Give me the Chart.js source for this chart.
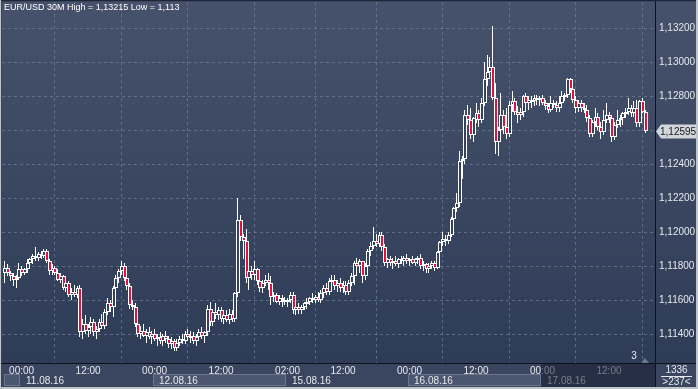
<!DOCTYPE html>
<html>
<head>
<meta charset="utf-8">
<script src="https://cdn.jsdelivr.net/npm/chart.js@4.4.1/dist/chart.umd.min.js"></script>
<style>
  html, body { margin: 0; padding: 0; background: #36425c; }
  canvas { display: block; }
</style>
</head>
<body>
<canvas id="chart" width="698" height="389"></canvas>
<script>
const symbolTitle = "EUR/USD 30M High = 1,13215 Low = 1,113";
const lastPrice = 1.12595;
const barsTotal = "1336";
const barsVisible = ">237<";
const pageNumber = "3";

// 30 minute candles, 10.08 21:00 -> 17.08 ~18:30
const opens = [
  1.1176, 1.1179, 1.1176, 1.1174, 1.1172, 1.1173, 1.1178, 1.1176, 1.1178, 1.1182,
  1.1184, 1.1186, 1.1185, 1.1187, 1.1186, 1.1189, 1.1183, 1.1177, 1.1179, 1.1176,
  1.1172, 1.1174, 1.1167, 1.1170, 1.1163, 1.1165, 1.1163, 1.1167, 1.1141, 1.1146,
  1.1142, 1.1144, 1.1147, 1.1141, 1.1143, 1.1147, 1.1145, 1.1153, 1.1158, 1.1156,
  1.1167, 1.1173, 1.1177, 1.1180, 1.1173, 1.1168, 1.1157, 1.1156, 1.1146, 1.1140,
  1.1142, 1.1139, 1.1141, 1.1138, 1.1140, 1.1137, 1.1138, 1.1136, 1.1139, 1.1137,
  1.1134, 1.1136, 1.1132, 1.1135, 1.1137, 1.1136, 1.1140, 1.1138, 1.1139, 1.1136,
  1.1138, 1.1141, 1.1139, 1.1141, 1.1155, 1.1147, 1.1153, 1.1151, 1.1154, 1.1149,
  1.1151, 1.1148, 1.1152, 1.1149, 1.1164, 1.1207, 1.1197, 1.1195, 1.1173, 1.1177,
  1.1175, 1.1178, 1.1171, 1.1167, 1.1170, 1.1172, 1.1170, 1.1162, 1.1163, 1.1159,
  1.1161, 1.1160, 1.1159, 1.1160, 1.1163, 1.1154, 1.1156, 1.1154, 1.1156, 1.1158,
  1.1159, 1.1161, 1.1160, 1.1162, 1.1160, 1.1164, 1.1167, 1.1165, 1.1171, 1.1172,
  1.1168, 1.1170, 1.1167, 1.1169, 1.1165, 1.1170, 1.1174, 1.1182, 1.1180, 1.1183,
  1.1174, 1.1180, 1.1189, 1.1192, 1.1195, 1.1193, 1.1198, 1.1191, 1.1182, 1.1184,
  1.1182, 1.1183, 1.1181, 1.1184, 1.1183, 1.1185, 1.1183, 1.1184, 1.1182, 1.1184,
  1.1185, 1.1180, 1.1181, 1.1178, 1.1180, 1.1182, 1.1179, 1.1188, 1.1194, 1.1196,
  1.1195, 1.1198, 1.1208, 1.1214, 1.1217, 1.1242, 1.1243, 1.1269, 1.1266, 1.1257,
  1.1266, 1.1270, 1.1266, 1.1276, 1.1290, 1.1294, 1.1297, 1.1279, 1.1253, 1.1260,
  1.1269, 1.1262, 1.1258, 1.1275, 1.1277, 1.1271, 1.1269, 1.1271, 1.1280, 1.1276,
  1.1278, 1.1277, 1.1279, 1.1278, 1.1279, 1.1276, 1.1274, 1.1272, 1.1276, 1.1275,
  1.1273, 1.1276, 1.1280, 1.1281, 1.1290, 1.1284, 1.1278, 1.1273, 1.1276, 1.1273,
  1.1272, 1.1267, 1.1258, 1.1265, 1.1268, 1.1262, 1.1259, 1.1266, 1.1269, 1.1267,
  1.1256, 1.1263, 1.1266, 1.1267, 1.1270, 1.1271, 1.1273, 1.1270, 1.1273, 1.1264,
  1.1277, 1.1271
];
const highs = [
  1.1183, 1.1181, 1.1177, 1.1176, 1.1175, 1.1182, 1.1180, 1.1179, 1.1184, 1.1185,
  1.1187, 1.1191, 1.1188, 1.1189, 1.1190, 1.1190, 1.1184, 1.1181, 1.1180, 1.1178,
  1.1176, 1.1175, 1.1172, 1.1171, 1.1167, 1.1169, 1.1168, 1.1169, 1.1149, 1.1151,
  1.1146, 1.1150, 1.1149, 1.1145, 1.1149, 1.1152, 1.1155, 1.1161, 1.1160, 1.1168,
  1.1175, 1.1178, 1.1183, 1.1182, 1.1175, 1.1170, 1.1160, 1.1158, 1.1148, 1.1145,
  1.1146, 1.1143, 1.1144, 1.1142, 1.1143, 1.1140, 1.1141, 1.1140, 1.1142, 1.1139,
  1.1138, 1.1137, 1.1137, 1.1139, 1.1140, 1.1142, 1.1143, 1.1142, 1.1141, 1.1140,
  1.1143, 1.1144, 1.1142, 1.1157, 1.1159, 1.1155, 1.1158, 1.1156, 1.1156, 1.1153,
  1.1154, 1.1155, 1.1154, 1.1165, 1.1220, 1.1210, 1.1199, 1.1202, 1.1178, 1.1180,
  1.1183, 1.1179, 1.1173, 1.1172, 1.1175, 1.1176, 1.1174, 1.1165, 1.1164, 1.1163,
  1.1163, 1.1162, 1.1161, 1.1165, 1.1165, 1.1157, 1.1158, 1.1157, 1.1159, 1.1161,
  1.1162, 1.1164, 1.1163, 1.1165, 1.1166, 1.1169, 1.1170, 1.1173, 1.1175, 1.1175,
  1.1172, 1.1173, 1.1171, 1.1171, 1.1172, 1.1176, 1.1183, 1.1185, 1.1184, 1.1183,
  1.1182, 1.1190, 1.1194, 1.1203, 1.1199, 1.1200, 1.1200, 1.1193, 1.1185, 1.1186,
  1.1185, 1.1186, 1.1185, 1.1186, 1.1186, 1.1187, 1.1185, 1.1186, 1.1185, 1.1186,
  1.1187, 1.1183, 1.1182, 1.1182, 1.1183, 1.1183, 1.1189, 1.1195, 1.1200, 1.1198,
  1.1200, 1.1209, 1.1215, 1.1223, 1.1248, 1.1245, 1.1272, 1.1275, 1.1273, 1.1268,
  1.1276, 1.1272, 1.1279, 1.1300, 1.1304, 1.1303, 1.13215, 1.1288, 1.1262, 1.1282,
  1.1272, 1.1273, 1.1277, 1.1283, 1.1279, 1.1274, 1.1273, 1.1281, 1.1282, 1.1280,
  1.1280, 1.1281, 1.1281, 1.1280, 1.1281, 1.1278, 1.1276, 1.1280, 1.1278, 1.1277,
  1.1280, 1.1283, 1.1282, 1.1291, 1.1291, 1.1286, 1.1280, 1.1278, 1.1278, 1.1276,
  1.1275, 1.1269, 1.1266, 1.1273, 1.1270, 1.1265, 1.1272, 1.1276, 1.1271, 1.1269,
  1.1265, 1.1272, 1.1269, 1.1271, 1.1273, 1.1279, 1.1275, 1.1277, 1.1278, 1.1278,
  1.1279, 1.1272
];
const lows = [
  1.1170, 1.1174, 1.1171, 1.1168, 1.1167, 1.1172, 1.1174, 1.1175, 1.1176, 1.1179,
  1.1181, 1.1183, 1.1183, 1.1184, 1.1185, 1.1182, 1.1175, 1.1175, 1.1175, 1.1171,
  1.1170, 1.1166, 1.1165, 1.1162, 1.1160, 1.1162, 1.1161, 1.1138, 1.1137, 1.1140,
  1.1138, 1.1140, 1.1139, 1.1137, 1.1141, 1.1144, 1.1143, 1.1151, 1.1153, 1.1150,
  1.1164, 1.1170, 1.1175, 1.1171, 1.1166, 1.1155, 1.1154, 1.1144, 1.1138, 1.1137,
  1.1138, 1.1135, 1.1137, 1.1134, 1.1136, 1.1133, 1.1134, 1.1133, 1.1135, 1.1132,
  1.1131, 1.1130, 1.1130, 1.1133, 1.1134, 1.1134, 1.1136, 1.1135, 1.1134, 1.1133,
  1.1136, 1.1137, 1.1135, 1.1139, 1.1145, 1.1145, 1.1149, 1.1148, 1.1147, 1.1146,
  1.1147, 1.1146, 1.1147, 1.1147, 1.1162, 1.1195, 1.1184, 1.1170, 1.1166, 1.1172,
  1.1172, 1.1169, 1.1165, 1.1164, 1.1168, 1.1166, 1.1157, 1.1159, 1.1158, 1.1157,
  1.1156, 1.1157, 1.1156, 1.1158, 1.1152, 1.1151, 1.1152, 1.1152, 1.1154, 1.1155,
  1.1157, 1.1158, 1.1158, 1.1159, 1.1158, 1.1161, 1.1163, 1.1163, 1.1167, 1.1166,
  1.1165, 1.1165, 1.1164, 1.1163, 1.1163, 1.1168, 1.1169, 1.1178, 1.1176, 1.1170,
  1.1172, 1.1178, 1.1186, 1.1190, 1.1191, 1.1191, 1.1189, 1.1180, 1.1179, 1.1180,
  1.1178, 1.1180, 1.1179, 1.1181, 1.1180, 1.1181, 1.1180, 1.1181, 1.1180, 1.1181,
  1.1178, 1.1177, 1.1176, 1.1176, 1.1178, 1.1177, 1.1178, 1.1186, 1.1192, 1.1192,
  1.1193, 1.1197, 1.1206, 1.1212, 1.1215, 1.1231, 1.1240, 1.1263, 1.1255, 1.1253,
  1.1264, 1.1262, 1.1264, 1.1274, 1.1286, 1.1290, 1.1278, 1.1246, 1.1245, 1.1258,
  1.1258, 1.1255, 1.1256, 1.1271, 1.1269, 1.1264, 1.1266, 1.1268, 1.1274, 1.1272,
  1.1273, 1.1274, 1.1275, 1.1274, 1.1275, 1.1272, 1.1270, 1.1271, 1.1273, 1.1271,
  1.1271, 1.1274, 1.1277, 1.1279, 1.1282, 1.1276, 1.1270, 1.1271, 1.1271, 1.1270,
  1.1265, 1.1256, 1.1256, 1.1262, 1.1260, 1.1255, 1.1257, 1.1264, 1.1264, 1.1253,
  1.1254, 1.1261, 1.1262, 1.1263, 1.1267, 1.1269, 1.1268, 1.1268, 1.1262, 1.1262,
  1.1270, 1.12585
];
const closes = [
  1.1179, 1.1176, 1.1174, 1.1172, 1.1173, 1.1178, 1.1176, 1.1178, 1.1182, 1.1184,
  1.1186, 1.1185, 1.1187, 1.1186, 1.1189, 1.1183, 1.1177, 1.1179, 1.1176, 1.1172,
  1.1174, 1.1167, 1.1170, 1.1163, 1.1165, 1.1163, 1.1167, 1.1141, 1.1146, 1.1142,
  1.1144, 1.1147, 1.1141, 1.1143, 1.1147, 1.1145, 1.1153, 1.1158, 1.1156, 1.1167,
  1.1173, 1.1177, 1.1180, 1.1173, 1.1168, 1.1157, 1.1156, 1.1146, 1.1140, 1.1142,
  1.1139, 1.1141, 1.1138, 1.1140, 1.1137, 1.1138, 1.1136, 1.1139, 1.1137, 1.1134,
  1.1136, 1.1132, 1.1135, 1.1137, 1.1136, 1.1140, 1.1138, 1.1139, 1.1136, 1.1138,
  1.1141, 1.1139, 1.1141, 1.1155, 1.1147, 1.1153, 1.1151, 1.1154, 1.1149, 1.1151,
  1.1148, 1.1152, 1.1149, 1.1164, 1.1207, 1.1197, 1.1195, 1.1173, 1.1177, 1.1175,
  1.1178, 1.1171, 1.1167, 1.1170, 1.1172, 1.1170, 1.1162, 1.1163, 1.1159, 1.1161,
  1.1160, 1.1159, 1.1160, 1.1163, 1.1154, 1.1156, 1.1154, 1.1156, 1.1158, 1.1159,
  1.1161, 1.1160, 1.1162, 1.1160, 1.1164, 1.1167, 1.1165, 1.1171, 1.1172, 1.1168,
  1.1170, 1.1167, 1.1169, 1.1165, 1.1170, 1.1174, 1.1182, 1.1180, 1.1183, 1.1174,
  1.1180, 1.1189, 1.1192, 1.1195, 1.1193, 1.1198, 1.1191, 1.1182, 1.1184, 1.1182,
  1.1183, 1.1181, 1.1184, 1.1183, 1.1185, 1.1183, 1.1184, 1.1182, 1.1184, 1.1185,
  1.1180, 1.1181, 1.1178, 1.1180, 1.1182, 1.1179, 1.1188, 1.1194, 1.1196, 1.1195,
  1.1198, 1.1208, 1.1214, 1.1217, 1.1242, 1.1243, 1.1269, 1.1266, 1.1257, 1.1267,
  1.1270, 1.1266, 1.1276, 1.1290, 1.1294, 1.1297, 1.1279, 1.1253, 1.1260, 1.1269,
  1.1262, 1.1258, 1.1275, 1.1277, 1.1271, 1.1269, 1.1271, 1.1280, 1.1276, 1.1278,
  1.1277, 1.1279, 1.1278, 1.1279, 1.1276, 1.1274, 1.1272, 1.1276, 1.1275, 1.1273,
  1.1276, 1.1280, 1.1281, 1.1290, 1.1284, 1.1278, 1.1273, 1.1276, 1.1273, 1.1272,
  1.1267, 1.1258, 1.1265, 1.1268, 1.1262, 1.1259, 1.1266, 1.1269, 1.1267, 1.1256,
  1.1263, 1.1266, 1.1267, 1.1270, 1.1271, 1.1273, 1.1270, 1.1273, 1.1264, 1.1277,
  1.1271, 1.12595
];

// time axis: candle index of each label
const timeTickIdx = [6, 30, 54, 78, 102, 122, 146, 170, 194, 218];
const timeTickLabels = ["00:00", "12:00", "00:00", "12:00", "02:00", "12:00", "00:00", "12:00", "00:00", "12:00"];
const dayStartIdx = [0, 6, 54, 102, 146, 194];
const dayLabels = ["10.08.16", "11.08.16", "12.08.16", "15.08.16", "16.08.16", "17.08.16"];
const priceTicks = [1.114, 1.116, 1.118, 1.12, 1.122, 1.124, 1.126, 1.128, 1.13, 1.132];

const FONT = "'Liberation Sans', Arial, sans-serif";
const TEXT = "#e6e9ee";
const GRID = "rgba(125,140,168,0.55)";
const RED = "#e0113c";
const HOLLOW = "#35425c";

const idx = opens.map((_, i) => i);
const wicks = idx.map(i => ({ x: i, y: [lows[i], highs[i]] }));
const bodies = idx.map(i => ({ x: i, y: [Math.min(opens[i], closes[i]), Math.max(opens[i], closes[i])] }));
const bodyFill = idx.map(i => closes[i] < opens[i] ? RED : HOLLOW);

// snap bars to whole pixels so the thin candles stay sharp
const crispBars = {
  id: 'crispBars',
  afterDatasetsUpdate(chart) {
    chart.getSortedVisibleDatasetMetas().forEach(meta => {
      meta.data.forEach(el => {
        const n = Math.floor(el.x);
        el.x = el.width % 2 === 0 ? n + 1 : n + 0.5;
        const top = Math.round(Math.min(el.y, el.base));
        let bottom = Math.round(Math.max(el.y, el.base));
        if (bottom - top < 2) bottom = top + 2;
        el.y = top;
        el.base = bottom;
      });
    });
  }
};

const frame = {
  id: 'frame',
  beforeDraw(chart) {
    const { ctx, chartArea: a, width, height } = chart;
    ctx.save();
    ctx.fillStyle = "#3a4660";
    ctx.fillRect(0, 0, width, height);
    const g = ctx.createLinearGradient(0, a.top, 0, a.bottom);
    g.addColorStop(0, "#46526b");
    g.addColorStop(1, "#2f3c57");
    ctx.fillStyle = g;
    ctx.fillRect(a.left, a.top, width - a.left - 2, a.bottom - a.top);
    ctx.restore();
  },
  afterDraw(chart) {
    const { ctx, chartArea: a, width, height } = chart;
    const xs = chart.scales.x, ys = chart.scales.y;
    ctx.save();

    // date row
    const rowTop = a.bottom + 11, rowBot = height - 3;
    dayStartIdx.forEach((d, k) => {
      const x0 = Math.round(xs.getPixelForValue(d - 0.5));
      const x1 = k + 1 < dayStartIdx.length ? Math.round(xs.getPixelForValue(dayStartIdx[k + 1] - 0.5)) : a.right;
      if (k % 2 === 0) {
        const l = Math.max(x0, a.left);
        ctx.fillStyle = "#4b5770";
        ctx.fillRect(l, rowTop, x1 - l, rowBot - rowTop);
        ctx.strokeStyle = "#6a7690";
        ctx.lineWidth = 1;
        ctx.strokeRect(l + 0.5, rowTop + 0.5, x1 - l - 1, rowBot - rowTop - 1);
      }
      if (x1 - x0 > 60) {
        ctx.fillStyle = TEXT;
        ctx.font = "10px " + FONT;
        ctx.textBaseline = "middle";
        ctx.textAlign = "left";
        ctx.fillText(dayLabels[k], x0 + 6, (rowTop + rowBot) / 2 + 1);
      }
    });

    // current day shading on the time axis
    const cur = Math.round(xs.getPixelForValue(dayStartIdx[dayStartIdx.length - 1] - 0.5));
    ctx.fillStyle = "rgba(22,30,48,0.55)";
    ctx.fillRect(cur, a.bottom + 1, a.right - cur, height - a.bottom - 3);

    // separators
    ctx.fillStyle = "#0d1119";
    ctx.fillRect(a.right, 0, 1, height);
    ctx.fillRect(0, a.bottom, width, 1);

    // last price tag
    const py = Math.round(ys.getPixelForValue(lastPrice)) + 0.5;
    ctx.beginPath();
    ctx.moveTo(a.right + 1, py);
    ctx.lineTo(a.right + 6, py - 7);
    ctx.lineTo(width - 2, py - 7);
    ctx.lineTo(width - 2, py + 7);
    ctx.lineTo(a.right + 6, py + 7);
    ctx.closePath();
    ctx.fillStyle = "#d2d5da";
    ctx.fill();
    ctx.fillStyle = "#15181e";
    ctx.font = "10px " + FONT;
    ctx.textAlign = "left";
    ctx.textBaseline = "middle";
    ctx.fillText(lastPrice.toFixed(5).replace(".", ","), a.right + 5, py + 0.5);

    // bar counters
    const cx = (a.right + width) / 2;
    ctx.fillStyle = TEXT;
    ctx.textAlign = "center";
    ctx.fillText(barsTotal, cx, a.bottom + 7);
    ctx.fillRect(a.right + 6, a.bottom + 13, width - a.right - 12, 1);
    ctx.fillText(barsVisible, cx, a.bottom + 19);

    ctx.fillText(pageNumber, a.right - 21, a.bottom - 7);
    ctx.fillStyle = "#6c778c";
    ctx.beginPath();
    ctx.moveTo(a.right - 14, a.bottom);
    ctx.lineTo(a.right - 10, a.bottom - 5);
    ctx.lineTo(a.right - 6, a.bottom);
    ctx.closePath();
    ctx.fill();

    // title
    ctx.fillStyle = "#ffffff";
    ctx.textAlign = "left";
    ctx.font = "9px " + FONT;
    ctx.fillText(symbolTitle, 4, 8);

    // outer frame
    ctx.fillStyle = "#1e2536";
    ctx.fillRect(0, 0, width, 1);
    ctx.fillStyle = "#bfc4cc";
    ctx.fillRect(0, 0, 1, height);
    ctx.fillRect(width - 2, 0, 2, height);
    ctx.fillRect(0, height - 2, width, 2);
    ctx.restore();
  }
};

new Chart(document.getElementById("chart"), {
  type: 'bar',
  data: {
    datasets: [
      {
        data: bodies,
        backgroundColor: bodyFill,
        borderColor: "#ffffff",
        borderWidth: 1,
        barThickness: 4
      },
      {
        data: wicks,
        backgroundColor: "#ffffff",
        borderWidth: 0,
        barThickness: 1
      }
    ]
  },
  options: {
    responsive: false,
    animation: false,
    events: [],
    layout: { padding: { left: 2, top: 2, right: 2, bottom: 2 } },
    datasets: { bar: { grouped: false, inflateAmount: 0, borderSkipped: false } },
    plugins: {
      legend: { display: false },
      tooltip: { enabled: false },
      title: { display: false }
    },
    scales: {
      x: {
        type: 'linear',
        min: -1.08,
        max: 234.6,
        offset: false,
        afterBuildTicks: s => { s.ticks = timeTickIdx.map(v => ({ value: v })); },
        afterFit: s => { s.height = 24; s.paddingLeft = 0; s.paddingRight = 0; },
        grid: { color: GRID, drawTicks: false, lineWidth: 1 },
        border: { display: false, dash: [3, 3] },
        ticks: {
          autoSkip: false,
          maxRotation: 0,
          padding: 2,
          color: TEXT,
          font: { family: FONT, size: 10 },
          callback: (v, i) => timeTickLabels[i]
        }
      },
      y: {
        position: 'right',
        min: 1.112293,
        max: 1.133548,
        afterBuildTicks: s => { s.ticks = priceTicks.map(v => ({ value: v })); },
        afterFit: s => { s.width = 41; s.paddingTop = 0; s.paddingBottom = 0; },
        grid: { color: GRID, drawTicks: false, lineWidth: 1 },
        border: { display: false, dash: [3, 3] },
        ticks: {
          padding: 4,
          color: TEXT,
          font: { family: FONT, size: 10 },
          callback: v => Math.abs(v - lastPrice) < 0.0003 ? "" : v.toFixed(5).replace(".", ",")
        }
      }
    }
  },
  plugins: [crispBars, frame]
});
</script>
</body>
</html>
